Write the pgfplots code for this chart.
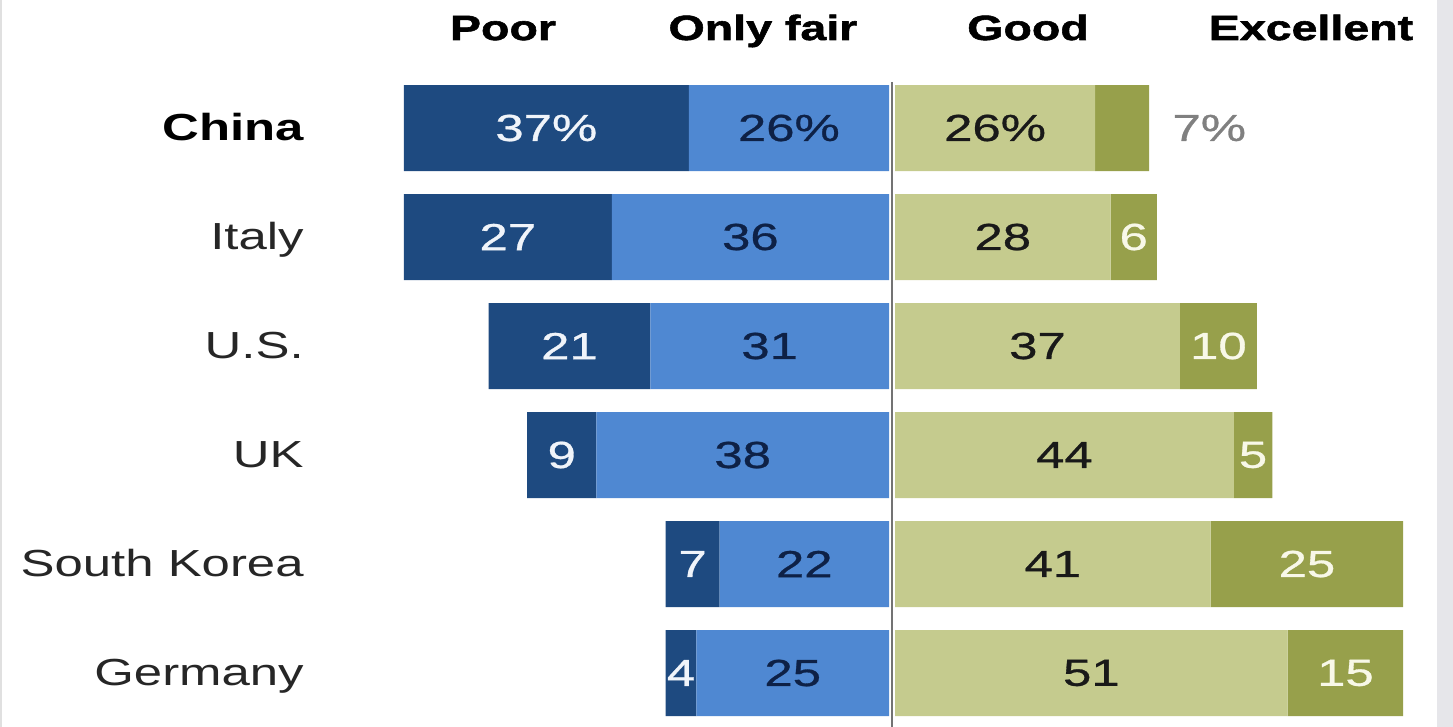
\documentclass[border=0pt]{standalone}
\usepackage{pgfplots}
\pgfplotsset{compat=1.18}
\usepackage{pgfplotstable}
\usepackage{fontspec}
\setmainfont{Liberation Sans}[FakeStretch=1.35]
\newfontfamily\valfont{Liberation Sans}[FakeStretch=1.35, FakeBold=0.8]
\newfontfamily\hdrfont{Liberation Sans Bold}[FakeStretch=1.33, FakeBold=1.6]

\definecolor{dblue}{RGB}{30,74,128}
\definecolor{lblue}{RGB}{79,136,210}
\definecolor{lolive}{RGB}{197,203,142}
\definecolor{dolive}{RGB}{151,160,75}
\definecolor{navytxt}{RGB}{14,33,70}
\definecolor{lighttxt}{RGB}{240,244,250}
\definecolor{creamtxt}{RGB}{248,248,232}
\definecolor{graytxt}{RGB}{128,128,128}
\definecolor{striptone}{RGB}{230,230,234}

\pgfplotstableread{
row poor fair good exc lp lf lg le
0 37 26 26 7 37\% 26\% 26\% 7\%
1 27 36 28 6 27 36 28 6
2 21 31 37 10 21 31 37 10
3 9 38 44 5 9 38 44 5
4 7 22 41 25 7 22 41 25
5 4 25 51 15 4 25 51 15
}\data

\newcommand{\lbl}{\fontsize{18.85}{22}\selectfont}
\newcommand{\vlbl}{\valfont\fontsize{18.85}{22}\selectfont}
\newcommand{\hdr}{\hdrfont\fontsize{17.5}{21}\selectfont}

\pgfplotsset{
  common/.style={
    x=3.85pt, y=54.5pt, y dir=reverse,
    ymin=-0.6, ymax=5.6,
    hide axis, clip=false, anchor=origin,
  },
  leftside/.style={common, xmin=0, xmax=116, x dir=reverse, at={(444.5pt,-64pt)}},
  rightside/.style={common, xmin=0, xmax=72, at={(447.5pt,-64pt)}},
  lab/.style={draw=none, nodes near coords, point meta=explicit symbolic,
    every node near coord/.append style={anchor=center, font=\vlbl, #1}},
}

\begin{document}
\begin{tikzpicture}
% left bars
\begin{axis}[leftside, xbar stacked, bar width=43pt]
\addplot[fill=lblue, draw=none] table[x=fair, y=row]{\data};
\addplot[fill=dblue, draw=none] table[x=poor, y=row]{\data};
\end{axis}
% left labels
\begin{axis}[leftside]
\addplot[lab={text=navytxt}] table[x expr=\thisrow{fair}/2, y=row, meta=lf]{\data};
\addplot[lab={text=lighttxt}] table[x expr=\thisrow{fair}+\thisrow{poor}/2, y=row, meta=lp]{\data};
\node[anchor=base east, font=\lbl\bfseries, text=black, yshift=-6.25pt] at (axis cs:75.1,0) {China};
\node[anchor=base east, font=\lbl, text=black!85, yshift=-6.25pt] at (axis cs:75.1,1) {Italy};
\node[anchor=base east, font=\lbl, text=black!85, yshift=-6.25pt] at (axis cs:75.1,2) {U.S.};
\node[anchor=base east, font=\lbl, text=black!85, yshift=-6.25pt] at (axis cs:75.1,3) {UK};
\node[anchor=base east, font=\lbl, text=black!85, yshift=-6.25pt] at (axis cs:75.1,4) {South Korea};
\node[anchor=base east, font=\lbl, text=black!85, yshift=-6.25pt] at (axis cs:75.1,5) {Germany};
\end{axis}
% right bars
\begin{axis}[rightside, xbar stacked, bar width=43pt]
\addplot[fill=lolive, draw=none] table[x=good, y=row]{\data};
\addplot[fill=dolive, draw=none] table[x=exc, y=row]{\data};
\end{axis}
% right labels
\begin{axis}[rightside]
\addplot[lab={text=black!90}] table[x expr=\thisrow{good}/2, y=row, meta=lg]{\data};
\addplot[lab={text=creamtxt}, skip coords between index={0}{1}] table[x expr=\thisrow{good}+\thisrow{exc}/2, y=row, meta=le]{\data};
\addplot[lab={text=graytxt, anchor=west, inner sep=0pt, xshift=11.5pt}, skip coords between index={1}{6}] table[x expr=\thisrow{good}+\thisrow{exc}, y=row, meta=le]{\data};
\end{axis}
% decorations
\draw[color=black!55, line width=1pt] (445.75pt,-41pt) -- (445.75pt,-363.5pt);
\fill[striptone] (718.5pt,0pt) rectangle (726.5pt,-363.5pt);
\fill[black!12] (0pt,0pt) rectangle (1pt,-363.5pt);
% headers
\node[anchor=base, font=\hdr] at (251.5pt,-20pt) {Poor};
\node[anchor=base, font=\hdr] at (381.5pt,-20pt) {Only fair};
\node[anchor=base, font=\hdr] at (514pt,-20pt) {Good};
\node[anchor=base, font=\hdr] at (655.5pt,-20pt) {Excellent};
\pgfresetboundingbox
\path[use as bounding box] (0pt,0pt) rectangle (726.5pt,-363.5pt);
\end{tikzpicture}
\end{document}
